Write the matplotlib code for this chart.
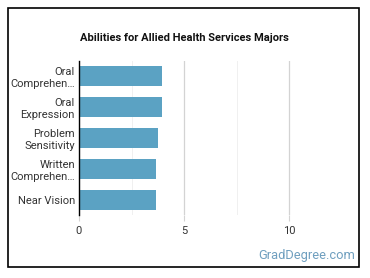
import matplotlib.pyplot as plt
from matplotlib.patches import Rectangle

plt.rcParams['font.family'] = ['Roboto', 'DejaVu Sans']

# chart data
abilities = ['Oral\nComprehen…', 'Oral\nExpression', 'Problem\nSensitivity',
             'Written\nComprehen…', 'Near Vision']
scores = [3.96, 3.96, 3.78, 3.68, 3.68]
x_ticks = [0, 5, 10]

fig = plt.figure(figsize=(3.7, 2.78), dpi=100)
ax = fig.add_axes([79 / 370, 1 - 215 / 278, 273 / 370, 154 / 278])

ypos = list(range(len(abilities)))
ax.barh(ypos, scores, height=0.65, color='#5ba2c3', zorder=3)
ax.set_ylim(len(abilities) - 0.5, -0.5)
ax.set_xlim(0, 13)
ax.set_yticks(ypos)
ax.set_yticklabels(abilities, fontsize=8, color='#333333', linespacing=1.25)
ax.set_xticks(x_ticks)
ax.set_xticklabels([str(t) for t in x_ticks], fontsize=8, color='#333333')
ax.set_xticks([2.5, 7.5], minor=True)

# grid
ax.grid(axis='x', which='major', color='#d3d3d3', linewidth=0.9, zorder=0)
ax.grid(axis='x', which='minor', color='#f0f0f0', linewidth=0.7, zorder=0)
ax.tick_params(axis='x', which='major', length=4, color='#d3d3d3', pad=4)
ax.tick_params(axis='x', which='minor', length=0)
ax.tick_params(axis='y', length=0, pad=3)

for side in ['top', 'right', 'bottom']:
    ax.spines[side].set_visible(False)
ax.spines['left'].set_color('black')
ax.spines['left'].set_linewidth(1)
ax.spines['left'].set_zorder(4)

fig.text(184 / 370, 1 - 38 / 278, 'Abilities for Allied Health Services Majors',
         ha='center', va='center', fontsize=8, fontweight='bold', color='#111111')
fig.text(355 / 370, 1 - 255 / 278, 'GradDegree.com', ha='right', va='center',
         fontsize=9.3, color='#6f9fbf')

# outer frame
fig.patches.append(Rectangle((8 / 370, 1 - 267 / 278), 351 / 370, 259 / 278,
                             transform=fig.transFigure, fill=False,
                             edgecolor='black', linewidth=1.2))

fig.savefig('out.png', dpi=100)
